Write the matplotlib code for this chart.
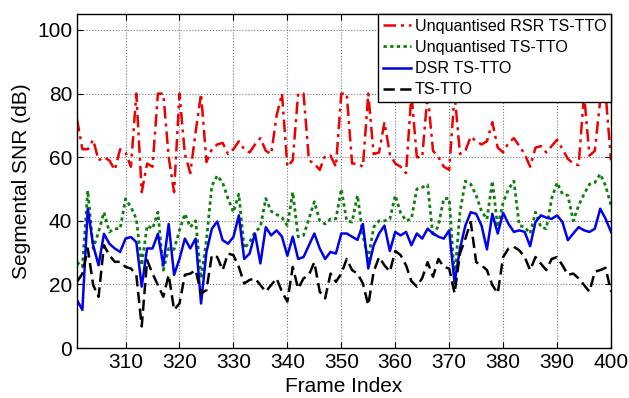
import numpy as np
import matplotlib
matplotlib.use("Agg")
import matplotlib.pyplot as plt

plt.rcParams['font.family'] = ['Liberation Sans', 'DejaVu Sans']

frames = np.arange(301, 401)

rsr_unq = [72, 62.5, 62.5, 65.5, 59, 60, 59, 56, 62.5, 61.5,
           57, 80, 49, 58, 57, 80, 80, 60, 49, 80,
           61, 55, 68, 80, 58.5, 62.5, 64, 64.5, 61, 62.5,
           65, 62.5, 61.5, 64, 66, 62, 61, 73, 80, 57,
           59, 80, 80, 59, 58, 56, 60.5, 60.5, 57, 80,
           80, 58, 58, 57, 80, 61, 61.5, 71, 61, 58,
           57, 55, 80, 60, 60, 80, 62, 60, 57, 56,
           80, 61, 62, 66.5, 65, 64, 65, 71, 63, 61.5,
           64.5, 66, 63.5, 61, 57, 63, 63.5, 61.5, 63.5, 65.5,
           62.5, 59.5, 58, 57.5, 80, 60.5, 62, 78, 80, 59]

ts_unq = [27, 25.5, 49.5, 31.3, 36.5, 42.7, 36.5, 37.5, 37.5, 46.9,
          44.3, 40.6, 26, 38.5, 37.5, 42.7, 24.5, 31.3, 31, 37,
          42.2, 38, 40, 21.9, 33.9, 51, 54.2, 52, 47, 42.7,
          48.4, 31.3, 33.3, 36.5, 38, 47, 43, 42, 41, 38.5,
          49, 35, 35.4, 40.6, 46, 40, 39, 40.6, 40.6, 50,
          40, 39.6, 48, 35.4, 28, 38, 40, 40, 40.5, 48,
          42.5, 40, 40.6, 50, 50.5, 51.3, 35, 38.5, 47, 47,
          22, 42.7, 52.5, 51.5, 48, 43, 40.5, 52.5, 38, 45.8,
          50, 52.5, 38.5, 38, 36, 42.7, 38, 37.5, 47, 52,
          48.4, 48, 40, 44.8, 48.4, 51.5, 52, 54.7, 51, 44.8]

dsr = [15.1, 12, 43.8, 32.3, 26, 35.9, 32.8, 31.3, 30.2, 34.4,
       34.9, 33.3, 19.3, 31.3, 31.3, 35.9, 26, 39, 23, 28,
       34.4, 31.3, 34.4, 14, 30.2, 37.5, 39.8, 33.9, 32.8, 34.9,
       41.7, 28, 29.7, 36, 26.6, 38, 35.4, 37, 35, 29,
       35, 28, 28.6, 32.3, 36, 31.3, 28, 30.2, 29.7, 36,
       36, 35, 34, 39, 25, 32.3, 36, 38.5, 30.5, 36.5,
       35.4, 36.5, 32.3, 36, 34.4, 37.5, 36, 35, 34.4, 37,
       20.5, 31.3, 38.5, 42.7, 42.2, 38.5, 31, 42.2, 36, 42.5,
       39, 36.5, 37, 36.5, 32, 39.6, 41.7, 41, 40.6, 41.7,
       39.6, 33.9, 36, 38, 37, 36.5, 37.5, 43.8, 40.6, 36.5]

ts = [20.8, 23.4, 31.3, 19.8, 16.1, 32.3, 29.2, 27.1, 27.1, 25.5,
      25, 23, 6.8, 27.6, 23.4, 19.8, 16.1, 23, 12, 14,
      23, 23.4, 24.5, 17.2, 18.2, 29.2, 28.6, 24.5, 29.7, 29.2,
      25.5, 20.3, 21.4, 21.9, 19.8, 17.7, 19.8, 21.9, 17.7, 14.6,
      25.5, 18.7, 21.9, 23, 27, 17.7, 15.6, 23.4, 20.8, 23.4,
      28, 24.5, 23.4, 20.3, 13.5, 24, 28.6, 26, 24, 30.5,
      29.2, 26, 21, 19.3, 22, 27, 22.4, 28, 25.5, 25,
      17.2, 29.7, 34.4, 39.6, 27, 26, 24.5, 19.8, 17.2, 28.6,
      31.3, 31.8, 30.7, 28.6, 24.5, 28.6, 26.5, 24.5, 28, 28.6,
      26, 23, 23.4, 21.9, 19.8, 17.7, 24, 24.5, 25.2, 17.7]

labels = ["Unquantised RSR TS-TTO", "Unquantised TS-TTO", "DSR TS-TTO", "TS-TTO"]

fig = plt.figure(figsize=(6.29, 3.98), dpi=100)
ax = fig.add_axes([0.1224, 0.1256, 0.849, 0.839])

ax.plot(frames, rsr_unq, color='#ee0000', linestyle=(0, (5, 2, 1.2, 2)), linewidth=1.8, label=labels[0])
ax.plot(frames, ts_unq, color='#0a800a', linestyle=(0, (1.2, 1.2)), linewidth=2.0, label=labels[1])
ax.plot(frames, dsr, color='#0000ee', linestyle='-', linewidth=1.8, label=labels[2])
ax.plot(frames, ts, color='black', linestyle=(0, (4.5, 2.2)), linewidth=1.8, label=labels[3])

ax.set_xlim(301, 400)
ax.set_ylim(0, 105)
ax.set_xticks(np.arange(310, 401, 10))
ax.set_yticks(np.arange(0, 101, 20))
ax.grid(True, linestyle=':', color='#777777', linewidth=0.8)
ax.tick_params(direction='in', top=True, right=True, labelsize=15, length=4)
for s in ax.spines.values():
    s.set_linewidth(1.0)

ax.set_xlabel("Frame Index", fontsize=15)
ax.set_ylabel("Segmental SNR (dB)", fontsize=15)

leg = ax.legend(loc='upper right', fontsize=11.6, borderaxespad=0, fancybox=False,
                framealpha=1, edgecolor='black', handlelength=1.7, handletextpad=0.25,
                labelspacing=0.38, borderpad=0.3)
leg.get_frame().set_linewidth(1.0)

fig.savefig("out.png", dpi=100)
